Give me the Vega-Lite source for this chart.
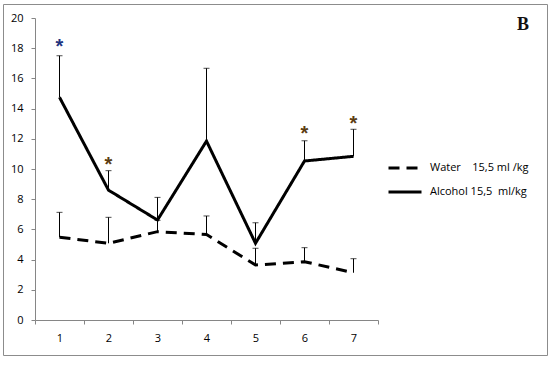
{
  "$schema": "https://vega.github.io/schema/vega-lite/v6.json",
  "width": 544,
  "height": 351,
  "autosize": {"type": "none"},
  "padding": {"left": 3, "top": 4, "right": 3, "bottom": 32},
  "background": "white",
  "title": {
    "text": "B",
    "orient": "top",
    "anchor": "end",
    "frame": "group",
    "font": "Liberation Serif",
    "fontSize": 18,
    "fontWeight": "bold",
    "color": "#111111",
    "baseline": "alphabetic",
    "offset": -26,
    "dx": -18,
    "dy": 18
  },
  "config": {
    "view": {"stroke": "#8c8c8c", "strokeWidth": 1},
    "axis": {
      "domainColor": "#868686",
      "tickColor": "#868686",
      "tickSize": 4,
      "grid": false,
      "labelFont": "Open Sans",
      "labelFontSize": 11,
      "labelColor": "#000000"
    },
    "legend": {
      "labelFont": "Open Sans",
      "labelFontSize": 11,
      "labelColor": "#000000"
    }
  },
  "datasets": {
    "series": [
      {"x": "1", "series": "Water", "value": 5.48, "err": 7.13},
      {"x": "2", "series": "Water", "value": 5.08, "err": 6.8},
      {"x": "3", "series": "Water", "value": 5.85, "err": 6.6},
      {"x": "4", "series": "Water", "value": 5.66, "err": 6.89},
      {"x": "5", "series": "Water", "value": 3.64, "err": 4.75},
      {"x": "6", "series": "Water", "value": 3.86, "err": 4.79},
      {"x": "7", "series": "Water", "value": 3.13, "err": 4.06},
      {"x": "1", "series": "Alcohol", "value": 14.75, "err": 17.5},
      {"x": "2", "series": "Alcohol", "value": 8.6, "err": 9.89},
      {"x": "3", "series": "Alcohol", "value": 6.62, "err": 8.12},
      {"x": "4", "series": "Alcohol", "value": 11.85, "err": 16.67},
      {"x": "5", "series": "Alcohol", "value": 5.08, "err": 6.44},
      {"x": "6", "series": "Alcohol", "value": 10.53, "err": 11.87},
      {"x": "7", "series": "Alcohol", "value": 10.84, "err": 12.63}
    ],
    "stars": [
      {"x": "1", "value": 18.4, "kind": "a"},
      {"x": "2", "value": 10.6, "kind": "b"},
      {"x": "6", "value": 12.65, "kind": "b"},
      {"x": "7", "value": 13.3, "kind": "b"}
    ]
  },
  "encoding": {
    "x": {
      "field": "x",
      "type": "ordinal",
      "title": null,
      "scale": {"type": "band", "paddingInner": 0, "paddingOuter": 0, "range": [32, 375]},
      "axis": {"orient": "bottom", "offset": -35, "domain": true, "tickBand": "extent", "labelAngle": 0, "labelPadding": 8}
    },
    "y": {
      "field": "value",
      "type": "quantitative",
      "title": null,
      "scale": {"domain": [0, 20], "range": [316, 14], "nice": false, "zero": true},
      "axis": {"orient": "left", "offset": -32, "domain": true, "values": [0, 2, 4, 6, 8, 10, 12, 14, 16, 18, 20], "labelPadding": 8, "labelOverlap": false}
    }
  },
  "layer": [
    {
      "data": {"name": "series"},
      "mark": {"type": "rule", "color": "#000000", "strokeWidth": 1},
      "encoding": {
        "y2": {"field": "err"}
      }
    },
    {
      "data": {"name": "series"},
      "transform": [{"fold": ["err"], "as": ["k", "value"]}],
      "mark": {"type": "tick", "color": "#000000", "size": 6, "thickness": 1}
    },
    {
      "data": {"name": "series"},
      "mark": {"type": "line", "color": "#000000", "strokeWidth": 3},
      "encoding": {
        "detail": {"field": "series"},
        "strokeDash": {
          "field": "series",
          "type": "nominal",
          "scale": {"domain": ["Water", "Alcohol"], "range": [[11, 7], [1, 0]]},
          "legend": {
            "title": null,
            "orient": "none",
            "legendX": 384,
            "legendY": 146,
            "symbolType": "stroke",
            "symbolSize": 1089,
            "symbolStrokeWidth": 3,
            "symbolStrokeColor": "#000000",
            "labelOffset": 7,
            "rowPadding": -9,
            "labelExpr": "datum.value == 'Water' ? 'Water\u00a0\u00a0\u00a0 15,5 ml /kg' : 'Alcohol 15,5\u00a0 ml/kg'"
          }
        }
      }
    },
    {
      "data": {"name": "stars"},
      "mark": {"type": "text", "text": "*", "font": "Liberation Sans", "fontSize": 20, "fontWeight": "bold", "baseline": "middle", "dy": 5},
      "encoding": {
        "color": {
          "field": "kind",
          "type": "nominal",
          "scale": {"domain": ["a", "b"], "range": ["#1f3480", "#5c3d12"]},
          "legend": null
        }
      }
    }
  ]
}
